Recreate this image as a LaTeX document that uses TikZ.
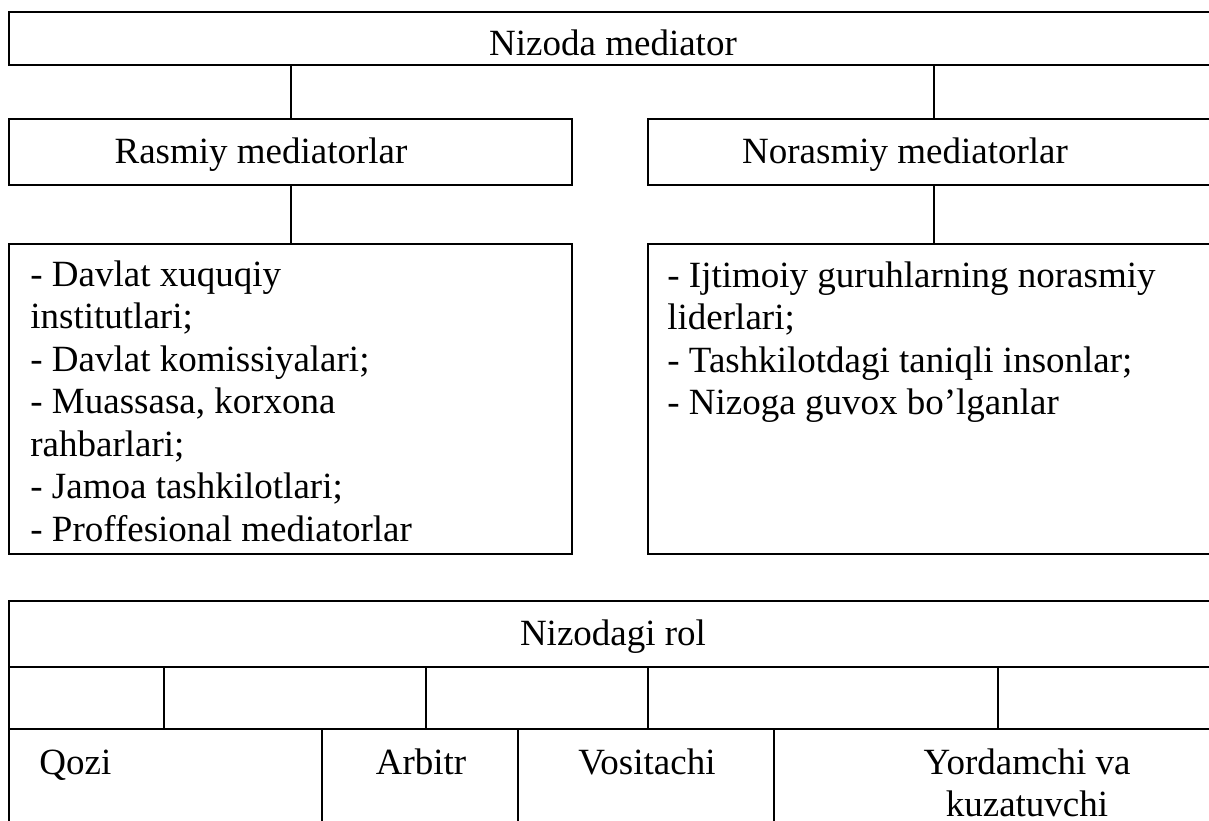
\documentclass[tikz,border=0pt]{standalone}
\usepackage{fontspec}
\setmainfont{Liberation Serif}
\usetikzlibrary{positioning}
\tikzset{
  every picture/.style={line join=miter},
  box/.style={draw, line width=1pt, rectangle, inner sep=0pt, anchor=north west},
  lbl/.style={inner sep=0pt, font=\fontsize{18.5}{21.25}\selectfont},
  link/.style={line width=1pt},
}
\begin{document}
\begin{tikzpicture}[x=0.5pt,y=-0.5pt]
\useasboundingbox (0,0) rectangle (1209,820);
\clip (0,0) rectangle (1209,820);
% upper scheme
\node[box,minimum width=605pt,minimum height=26.5pt] (med) at (8,11) {};
\node[box,minimum width=281.5pt,minimum height=33pt] (rasm) at (8,118) {};
\node[box,minimum width=285.5pt,minimum height=33pt] (norasm) at (647,118) {};
\node[box,minimum width=281.5pt,minimum height=155pt] (rlist) at (8,243) {};
\node[box,minimum width=285.5pt,minimum height=155pt] (nlist) at (647,243) {};
\draw[link] (med.south -| rasm.north) -- (rasm.north);
\draw[link] (med.south -| norasm.north) -- (norasm.north);
\draw[link] (rasm.south) -- (rlist.north);
\draw[link] (norasm.south) -- (nlist.north);
\node[lbl,anchor=base] (tmed) at (613,55) {Nizoda mediator};
\node[lbl,anchor=base] (trasm) at (261,163) {Rasmiy mediatorlar};
\node[lbl,anchor=base] (tnorasm) at (905,163) {Norasmiy mediatorlar};
\node[lbl,anchor=north west,align=left] (trlist) at (30,260) {- Davlat xuquqiy\\institutlari;\\- Davlat komissiyalari;\\- Muassasa, korxona\\rahbarlari;\\- Jamoa tashkilotlari;\\- Proffesional mediatorlar};
\node[lbl,anchor=north west,align=left] (tnlist) at (667,261) {- Ijtimoiy guruhlarning norasmiy\\liderlari;\\- Tashkilotdagi taniqli insonlar;\\- Nizoga guvox bo’lganlar};
% lower table
\node[box,minimum width=605pt,minimum height=33pt] (rol) at (8,600) {};
\node[lbl,anchor=base] (trol) at (613,645) {Nizodagi rol};
\node[box,minimum width=77.5pt,minimum height=31pt] (c1) at (8,666) {};
\node[box,minimum width=131pt,minimum height=31pt] (c2) at (163,666) {};
\node[box,minimum width=111pt,minimum height=31pt] (c3) at (425,666) {};
\node[box,minimum width=175pt,minimum height=31pt] (c4) at (647,666) {};
\node[box,minimum width=110.5pt,minimum height=31pt] (c5) at (997,666) {};
\node[box,minimum width=156.5pt,minimum height=70pt] (qozi) at (8,728) {};
\node[box,minimum width=98pt,minimum height=70pt] (arbitr) at (321,728) {};
\node[box,minimum width=128pt,minimum height=70pt] (vosit) at (517,728) {};
\node[box,minimum width=222.5pt,minimum height=70pt] (yordam) at (773,728) {};
\node[lbl,anchor=base west] (tqozi) at (39,774) {Qozi};
\node[lbl,anchor=base] (tarbitr) at (421,774) {Arbitr};
\node[lbl,anchor=base] (tvosit) at (647,774) {Vositachi};
\node[lbl,anchor=north,align=center] (tyordam) at (1027,748) {Yordamchi va\\kuzatuvchi};
\end{tikzpicture}
\end{document}
